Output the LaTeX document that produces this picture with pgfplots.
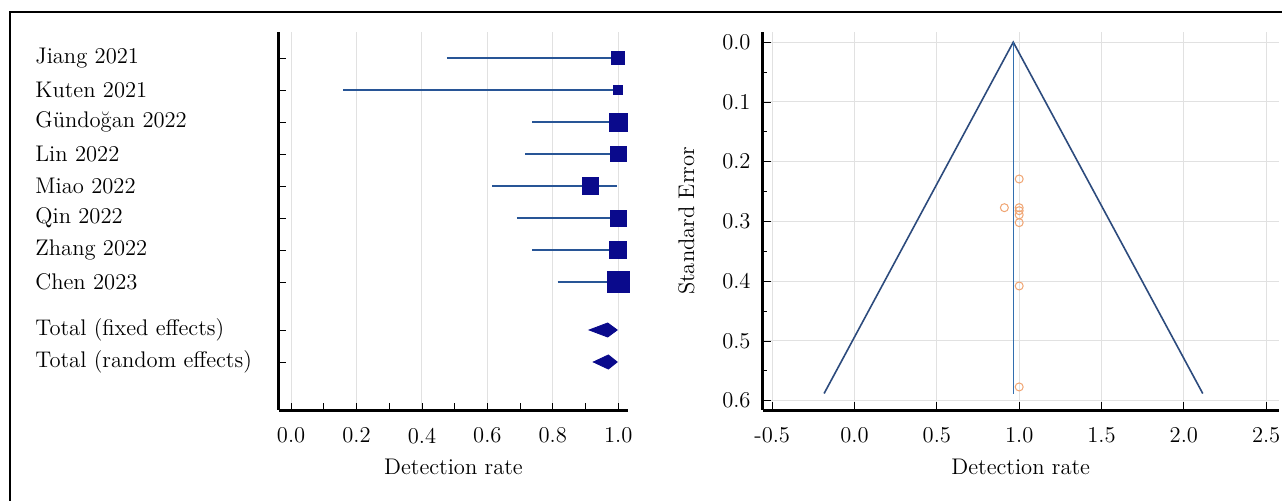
\documentclass[border=0pt]{standalone}
\usepackage{fontspec}
\usepackage{pgfplots}
\pgfplotsset{compat=1.18}
\definecolor{sq}{RGB}{10,10,140}
\definecolor{ci}{RGB}{40,85,150}
\definecolor{fun}{RGB}{45,75,125}
\definecolor{vl}{RGB}{50,110,175}
\definecolor{ptc}{RGB}{240,165,115}
\definecolor{gridc}{RGB}{225,225,225}
\begin{document}
\fontsize{11.3}{13.5}\selectfont
\begin{tikzpicture}[x=1pt,y=1pt]
\useasboundingbox (0,0) rectangle (641,250);
\fill[white] (0,0) rectangle (641,250);
\draw[line width=1.3pt] (5,-5) -- (5,244) -- (650,244);
% ---------------- Forest plot ----------------
\begin{axis}[
 at={(139.5pt,45pt)}, anchor=south west, scale only axis,
 width=174.5pt, height=189pt,
 xmin=-0.037, xmax=1.03, ymin=0.19, ymax=12, y dir=reverse,
 axis lines=left, axis line style={-, line width=1.5pt},
 tick align=inside, tick style={black, line width=0.4pt},
 major tick length=3.5pt, minor tick length=3.5pt,
 xtick={0,0.2,0.4,0.6,0.8,1},
 xticklabels={0.0,0.2,0.4,0.6,0.8,1.0},
 minor xtick={0.1,0.3,0.5,0.7,0.9},
 xmajorgrids, major grid style={gridc, line width=0.5pt},
 ytick={1,2,3,4,5,6,7,8,9.5,10.5},
 yticklabels={Jiang 2021, Kuten 2021, Gündoğan 2022, Lin 2022, Miao 2022, Qin 2022, Zhang 2022, Chen 2023, Total (fixed effects), Total (random effects)},
 yticklabel style={anchor=west, xshift=-122pt, inner sep=0pt},
 xticklabel style={yshift=-5pt},
 xlabel={Detection rate},
 xlabel style={at={(axis description cs:0.5,0)}, anchor=center, yshift=-28.5pt},
 clip=false,
]
% confidence intervals
\addplot[ci, line width=1pt] coordinates {(0.476,1) (1,1)};
\addplot[ci, line width=1pt] coordinates {(0.16,2) (1,2)};
\addplot[ci, line width=1pt] coordinates {(0.737,3) (1,3)};
\addplot[ci, line width=1pt] coordinates {(0.716,4) (1,4)};
\addplot[ci, line width=1pt] coordinates {(0.615,5) (0.995,5)};
\addplot[ci, line width=1pt] coordinates {(0.69,6) (1,6)};
\addplot[ci, line width=1pt] coordinates {(0.737,7) (1,7)};
\addplot[ci, line width=1pt] coordinates {(0.815,8) (1,8)};
% point estimates (weights as square size)
\addplot[only marks, mark=square*, sq, mark size=3.25pt] coordinates {(1,1)};
\addplot[only marks, mark=square*, sq, mark size=2.2pt] coordinates {(1,2)};
\addplot[only marks, mark=square*, sq, mark size=4.5pt] coordinates {(1,3)};
\addplot[only marks, mark=square*, sq, mark size=3.9pt] coordinates {(1,4)};
\addplot[only marks, mark=square*, sq, mark size=4.2pt] coordinates {(0.915,5)};
\addplot[only marks, mark=square*, sq, mark size=4.0pt] coordinates {(1,6)};
\addplot[only marks, mark=square*, sq, mark size=4.25pt] coordinates {(1,7)};
\addplot[only marks, mark=square*, sq, mark size=5.4pt] coordinates {(1,8)};
% pooled estimates
\addplot[fill=sq, draw=sq] coordinates {(0.911,9.5) (0.968,9.28) (0.997,9.5) (0.968,9.72)} -- cycle;
\addplot[fill=sq, draw=sq] coordinates {(0.924,10.5) (0.970,10.28) (0.997,10.5) (0.970,10.72)} -- cycle;
\end{axis}
% ---------------- Funnel plot ----------------
\begin{axis}[
 at={(381.25pt,45pt)}, anchor=south west, scale only axis,
 width=258.25pt, height=189pt,
 xmin=-0.559, xmax=2.578, ymin=-0.017, ymax=0.6156, y dir=reverse,
 axis lines=left, axis line style={-, line width=1.5pt},
 tick align=inside, tick style={black, line width=0.4pt},
 major tick length=4pt, minor tick length=2pt,
 xtick={-0.5,0,0.5,1,1.5,2,2.5},
 xticklabels={-0.5,0.0,0.5,1.0,1.5,2.0,2.5},
 ytick={0,0.1,0.2,0.3,0.4,0.5,0.6},
 yticklabels={0.0,0.1,0.2,0.3,0.4,0.5,0.6},
 minor ytick={0.05,0.15,0.25,0.35,0.45,0.55},
 grid=major, major grid style={gridc, line width=0.5pt},
 xticklabel style={yshift=-5pt},
 yticklabel style={xshift=-2pt},
 xlabel={Detection rate},
 xlabel style={at={(axis description cs:0.5,0)}, anchor=center, yshift=-28.5pt},
 ylabel={Standard Error},
 ylabel style={at={([xshift=-38pt]axis description cs:0,0.5)}, anchor=center},
 clip=false,
]
\addplot[fun, line width=0.8pt] coordinates {(-0.185,0.588) (0.964,0) (2.115,0.588)};
\addplot[vl, line width=0.7pt] coordinates {(0.964,0) (0.964,0.588)};
\addplot[only marks, mark=o, mark size=2pt, ptc, mark options={line width=0.5pt}] coordinates {
(1.0,0.229) (0.91,0.277) (1.0,0.277) (1.0,0.282) (1.0,0.289) (1.0,0.302) (1.0,0.408) (1.0,0.577)};
\end{axis}
\end{tikzpicture}
\end{document}
